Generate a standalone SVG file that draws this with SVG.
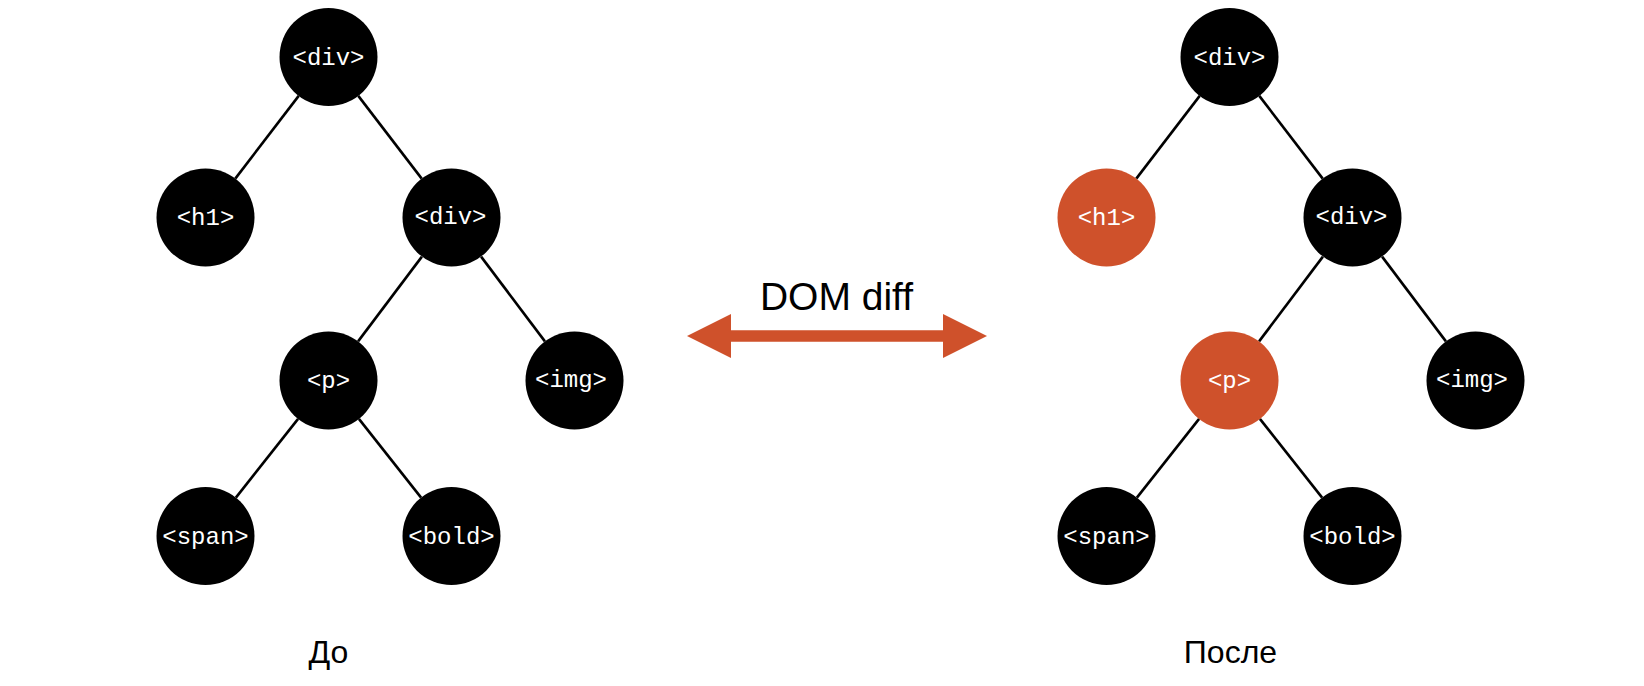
<svg xmlns="http://www.w3.org/2000/svg" width="1644" height="686" viewBox="0 0 1644 686">
<style>
.edge{stroke:#000;stroke-width:2.6;fill:none}
.n{fill:#000}
.c{fill:#CF512B}
.t{font-family:"Liberation Mono","Courier New",monospace;font-size:24px;fill:#fff;text-anchor:middle}
.cap{font-family:"Liberation Sans",Arial,sans-serif;font-size:32px;fill:#000;text-anchor:middle}
.lbl{font-family:"Liberation Sans",Arial,sans-serif;font-size:39px;fill:#000;text-anchor:middle}
</style>
<rect width="1644" height="686" fill="#fff"/>
<g id="connectors">
<line class="edge" x1="298.7" y1="95.9" x2="235.3" y2="178.6"/>
<line class="edge" x1="358.3" y1="95.9" x2="421.7" y2="178.6"/>
<line class="edge" x1="421.9" y1="256.6" x2="358.1" y2="341.4"/>
<line class="edge" x1="481.1" y1="256.6" x2="544.9" y2="341.4"/>
<line class="edge" x1="298.1" y1="418.9" x2="235.9" y2="497.6"/>
<line class="edge" x1="358.9" y1="418.9" x2="421.1" y2="497.6"/>
<line class="edge" x1="1199.7" y1="95.9" x2="1136.3" y2="178.6"/>
<line class="edge" x1="1259.3" y1="95.9" x2="1322.7" y2="178.6"/>
<line class="edge" x1="1322.9" y1="256.6" x2="1259.1" y2="341.4"/>
<line class="edge" x1="1382.1" y1="256.6" x2="1445.9" y2="341.4"/>
<line class="edge" x1="1199.1" y1="418.9" x2="1136.9" y2="497.6"/>
<line class="edge" x1="1259.9" y1="418.9" x2="1322.1" y2="497.6"/>
</g>
<g id="before-div-root"><circle class="n" cx="328.5" cy="57" r="49"/><text class="t" x="328.5" y="64.5">&lt;div&gt;</text></g>
<g id="before-h1"><circle class="n" cx="205.5" cy="217.5" r="49"/><text class="t" x="205.5" y="225">&lt;h1&gt;</text></g>
<g id="before-div"><circle class="n" cx="451.5" cy="217.5" r="49"/><text class="t" x="450.5" y="224">&lt;div&gt;</text></g>
<g id="before-p"><circle class="n" cx="328.5" cy="380.5" r="49"/><text class="t" x="328.5" y="387.5">&lt;p&gt;</text></g>
<g id="before-img"><circle class="n" cx="574.5" cy="380.5" r="49"/><text class="t" x="571" y="387">&lt;img&gt;</text></g>
<g id="before-span"><circle class="n" cx="205.5" cy="536" r="49"/><text class="t" x="205.5" y="543.5">&lt;span&gt;</text></g>
<g id="before-bold"><circle class="n" cx="451.5" cy="536" r="49"/><text class="t" x="451.5" y="543.5">&lt;bold&gt;</text></g>
<g id="after-div-root"><circle class="n" cx="1229.5" cy="57" r="49"/><text class="t" x="1229.5" y="64.5">&lt;div&gt;</text></g>
<g id="after-h1"><circle class="c" cx="1106.5" cy="217.5" r="49"/><text class="t" x="1106.5" y="225">&lt;h1&gt;</text></g>
<g id="after-div"><circle class="n" cx="1352.5" cy="217.5" r="49"/><text class="t" x="1351.5" y="224">&lt;div&gt;</text></g>
<g id="after-p"><circle class="c" cx="1229.5" cy="380.5" r="49"/><text class="t" x="1229.5" y="387.5">&lt;p&gt;</text></g>
<g id="after-img"><circle class="n" cx="1475.5" cy="380.5" r="49"/><text class="t" x="1472" y="387">&lt;img&gt;</text></g>
<g id="after-span"><circle class="n" cx="1106.5" cy="536" r="49"/><text class="t" x="1106.5" y="543.5">&lt;span&gt;</text></g>
<g id="after-bold"><circle class="n" cx="1352.5" cy="536" r="49"/><text class="t" x="1352.5" y="543.5">&lt;bold&gt;</text></g>
<g id="diff-arrow">
<polygon fill="#CF512B" points="687,336 731,314 731,330.2 943,330.2 943,314 987,336 943,358 943,341.8 731,341.8 731,358"/>
<text class="lbl" x="836.5" y="310">DOM diff</text>
</g>
<g id="captions">
<text class="cap" x="328.5" y="663">До</text>
<text class="cap" x="1230.5" y="663">После</text>
</g>
</svg>
